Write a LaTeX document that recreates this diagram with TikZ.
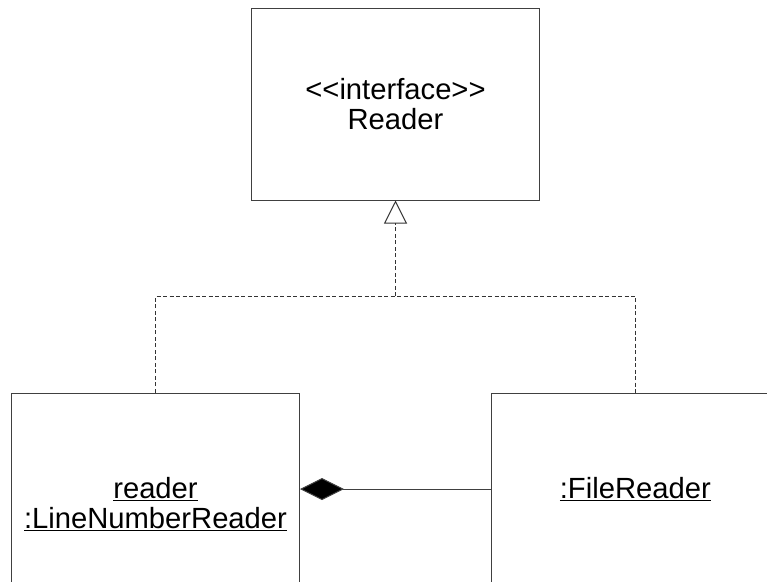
\documentclass[tikz,border=0pt]{standalone}
\usepackage{fontspec}
\setmainfont{Liberation Sans}
\usetikzlibrary{arrows.meta}
\begin{document}
\begin{tikzpicture}[x=1pt,y=-1pt,
  umlbox/.style={draw=black!75, line width=1pt, minimum width=288pt, minimum height=192pt, inner sep=0pt, align=center, font=\fontsize{29.2}{30.5}\selectfont},
  realize/.style={draw=black!80, line width=1pt, dash pattern=on 4pt off 2.5pt},
  compose/.style={draw=black!75, line width=1pt}]
\useasboundingbox (0,0) rectangle (767,581);
\clip (0,0) rectangle (767,581);
\node[umlbox] (T) at (395.5,104) {<\kern0pt<interface>\kern0pt>\\Reader};
\node[umlbox, minimum height=222pt] (L) at (155.5,504) {\underline{reader}\\\underline{:LineNumberReader}};
\node[umlbox] (R) at (635.3,489) {\underline{:FileReader}};
\coordinate (M) at (395.5,296);
\draw[realize] (L.north) |- (M) -| (R.north);
\draw[realize, -{Triangle[open, length=23pt, width=23pt, line width=1pt]}] (M) -- (T.south);
\draw[compose, -{Diamond[length=44pt, width=22pt, fill=black]}] (R.west) -- (L.east |- R.west);
\end{tikzpicture}
\end{document}
